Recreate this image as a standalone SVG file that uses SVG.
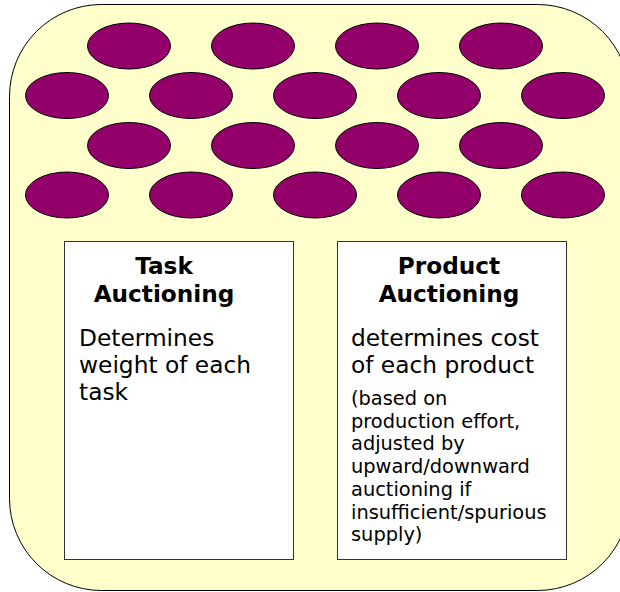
<svg xmlns="http://www.w3.org/2000/svg" width="620" height="592" viewBox="0 0 620 592">
<style>
.cell{fill:#93006a;stroke:#000;stroke-width:1}
.box{fill:#fff;stroke:#333;stroke-width:1}
text{font-family:"DejaVu Sans",Verdana,sans-serif;fill:#000}
.t{font-size:23.2px;font-weight:bold;text-anchor:middle}
.b{font-size:23.3px}
.s{font-size:19.4px}
</style>
<g id="container">
<rect x="9.5" y="4.5" width="620" height="586" rx="92" ry="92" fill="#ffffcc" stroke="#000" stroke-width="1"/>
</g>
<g id="cells">
<ellipse class="cell" cx="129" cy="46" rx="41.5" ry="23"/>
<ellipse class="cell" cx="253" cy="46" rx="41.5" ry="23"/>
<ellipse class="cell" cx="377" cy="46" rx="41.5" ry="23"/>
<ellipse class="cell" cx="501" cy="46" rx="41.5" ry="23"/>
<ellipse class="cell" cx="67" cy="95.5" rx="41.5" ry="23"/>
<ellipse class="cell" cx="191" cy="95.5" rx="41.5" ry="23"/>
<ellipse class="cell" cx="315" cy="95.5" rx="41.5" ry="23"/>
<ellipse class="cell" cx="439" cy="95.5" rx="41.5" ry="23"/>
<ellipse class="cell" cx="563" cy="95.5" rx="41.5" ry="23"/>
<ellipse class="cell" cx="129" cy="145.5" rx="41.5" ry="23"/>
<ellipse class="cell" cx="253" cy="145.5" rx="41.5" ry="23"/>
<ellipse class="cell" cx="377" cy="145.5" rx="41.5" ry="23"/>
<ellipse class="cell" cx="501" cy="145.5" rx="41.5" ry="23"/>
<ellipse class="cell" cx="67" cy="195" rx="41.5" ry="23"/>
<ellipse class="cell" cx="191" cy="195" rx="41.5" ry="23"/>
<ellipse class="cell" cx="315" cy="195" rx="41.5" ry="23"/>
<ellipse class="cell" cx="439" cy="195" rx="41.5" ry="23"/>
<ellipse class="cell" cx="563" cy="195" rx="41.5" ry="23"/>
</g>
<g id="task">
<rect class="box" x="64.5" y="241.5" width="229" height="318"/>
<text class="t" x="164" y="274">Task</text>
<text class="t" x="164" y="302">Auctioning</text>
<text class="b" x="79" y="346">Determines</text>
<text class="b" x="79" y="373">weight of each</text>
<text class="b" x="79" y="400">task</text>
</g>
<g id="product">
<rect class="box" x="337.5" y="241.5" width="229" height="318"/>
<text class="t" x="449" y="274">Product</text>
<text class="t" x="449" y="302">Auctioning</text>
<text class="b" x="351" y="346">determines cost</text>
<text class="b" x="351" y="373">of each product</text>
<text class="s" x="351" y="405">(based on</text>
<text class="s" x="351" y="427.7">production effort,</text>
<text class="s" x="351" y="450.4">adjusted by</text>
<text class="s" x="351" y="473.1">upward/downward</text>
<text class="s" x="351" y="495.8">auctioning if</text>
<text class="s" x="351" y="518.5">insufficient/spurious</text>
<text class="s" x="351" y="541.2">supply)</text>
</g>
<g id="connectors"/>
</svg>
